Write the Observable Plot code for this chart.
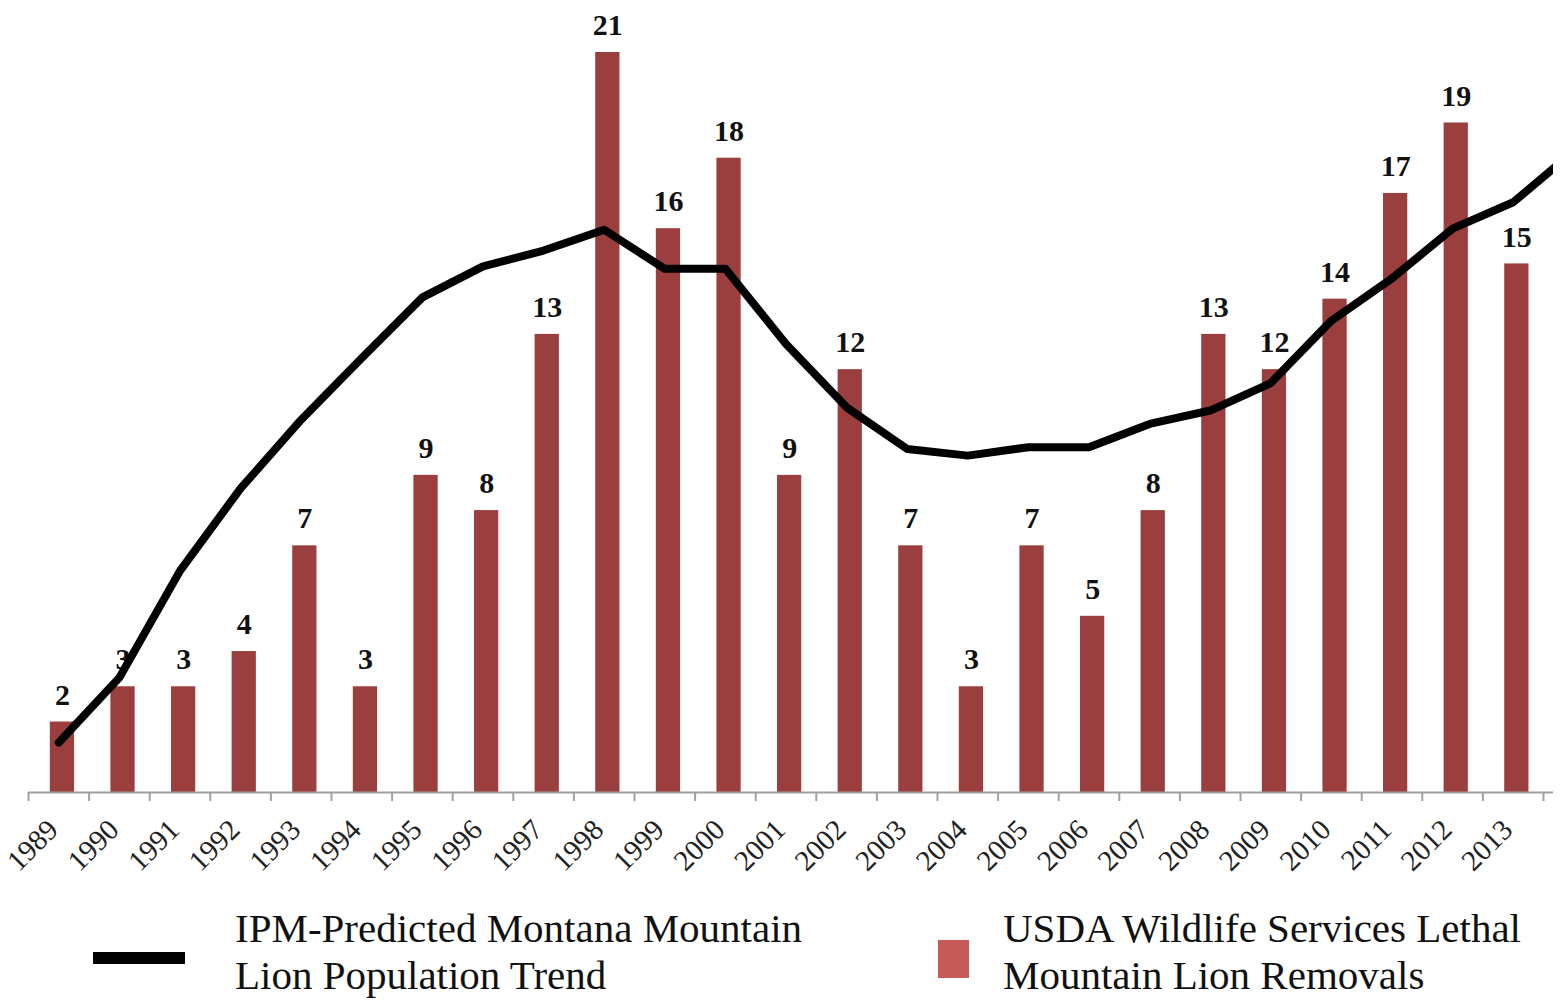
<!DOCTYPE html>
<html>
<head>
<meta charset="utf-8">
<script src="https://cdn.jsdelivr.net/npm/d3@7"></script>
<script src="https://cdn.jsdelivr.net/npm/@observablehq/plot@0.6"></script>
<style>
  html, body { margin: 0; padding: 0; background: #fff; overflow: hidden; }
  #wrap { position: relative; width: 1562px; height: 1000px; font-family: "Liberation Serif", "Times New Roman", serif; }
  #chart svg { display: block; overflow: visible; }
  .leg-text { position: absolute; font-size: 41px; line-height: 47px; color: #111; white-space: nowrap; }
  .sw { position: absolute; }
</style>
</head>
<body>
<div id="wrap">
  <div id="chart"></div>
  <div class="sw" style="left:93px; top:952px; width:92px; height:12px; background:#000;"></div>
  <div class="leg-text" style="left:235px; top:905px;">IPM-Predicted Montana Mountain<br>Lion Population Trend</div>
  <div class="sw" style="left:938px; top:940px; width:31px; height:38px; background:#c65a59;"></div>
  <div class="leg-text" style="left:1003px; top:905px;">USDA Wildlife Services Lethal<br>Mountain Lion Removals</div>
</div>
<script>
const years = [1989,1990,1991,1992,1993,1994,1995,1996,1997,1998,1999,2000,2001,2002,2003,2004,2005,2006,2007,2008,2009,2010,2011,2012,2013];
const removals = [2,3,3,4,7,3,9,8,13,21,16,18,9,12,7,3,7,5,8,13,12,14,17,19,15];
const trendYears = [1989,1990,1991,1992,1993,1994,1995,1996,1997,1998,1999,2000,2001,2002,2003,2004,2005,2006,2007,2008,2009,2010,2011,2012,2013,2014];
const trend = [1.42,3.26,6.29,8.63,10.58,12.33,14.05,14.93,15.38,15.97,14.86,14.86,12.73,10.93,9.75,9.56,9.80,9.80,10.46,10.84,11.62,13.39,14.59,16.0,16.75,18.2];
const boundaries = years.map(y => y - 0.5).concat([2013.5]);

const bars = years.map((year, i) => ({year, value: removals[i]}));
const line = trendYears.map((year, i) => ({year, value: trend[i]}));

const font = "Liberation Serif, Times New Roman, serif";

const chart = Plot.plot({
  width: 1562,
  height: 890,
  marginLeft: 28,
  marginRight: 9,
  marginTop: 52,
  marginBottom: 98,
  style: {fontFamily: font, background: "#fff"},
  x: {domain: [1988.5, 2013.665], axis: null},
  y: {domain: [0, 21], axis: null},
  marks: [
    Plot.rectY(bars, {x1: d => d.year - 0.14, x2: d => d.year + 0.26, y: "value", fill: "#9b3e3e"}),
    Plot.ruleY([0], {stroke: "#a0a0a0", strokeWidth: 2}),
    Plot.ruleX(boundaries, {x: d => d, y1: 0, y2: 0, insetTop: 0, insetBottom: -9, stroke: "#a0a0a0", strokeWidth: 2}),
    Plot.text(years, {x: d => d, frameAnchor: "bottom", text: d => String(d), rotate: -45, textAnchor: "end", dx: 1, dy: 39, fontSize: 29, fontFamily: font, fill: "#222"}),
    Plot.text(bars, {x: d => d.year + 0.06, y: "value", text: d => String(d.value), dy: -27, fontSize: 30, fontWeight: "bold", fontFamily: font, fill: "#111"}),
    Plot.line(line, {x: "year", y: "value", stroke: "#000", strokeWidth: 8, clip: true})
  ]
});
document.getElementById("chart").appendChild(chart);
</script>
</body>
</html>
